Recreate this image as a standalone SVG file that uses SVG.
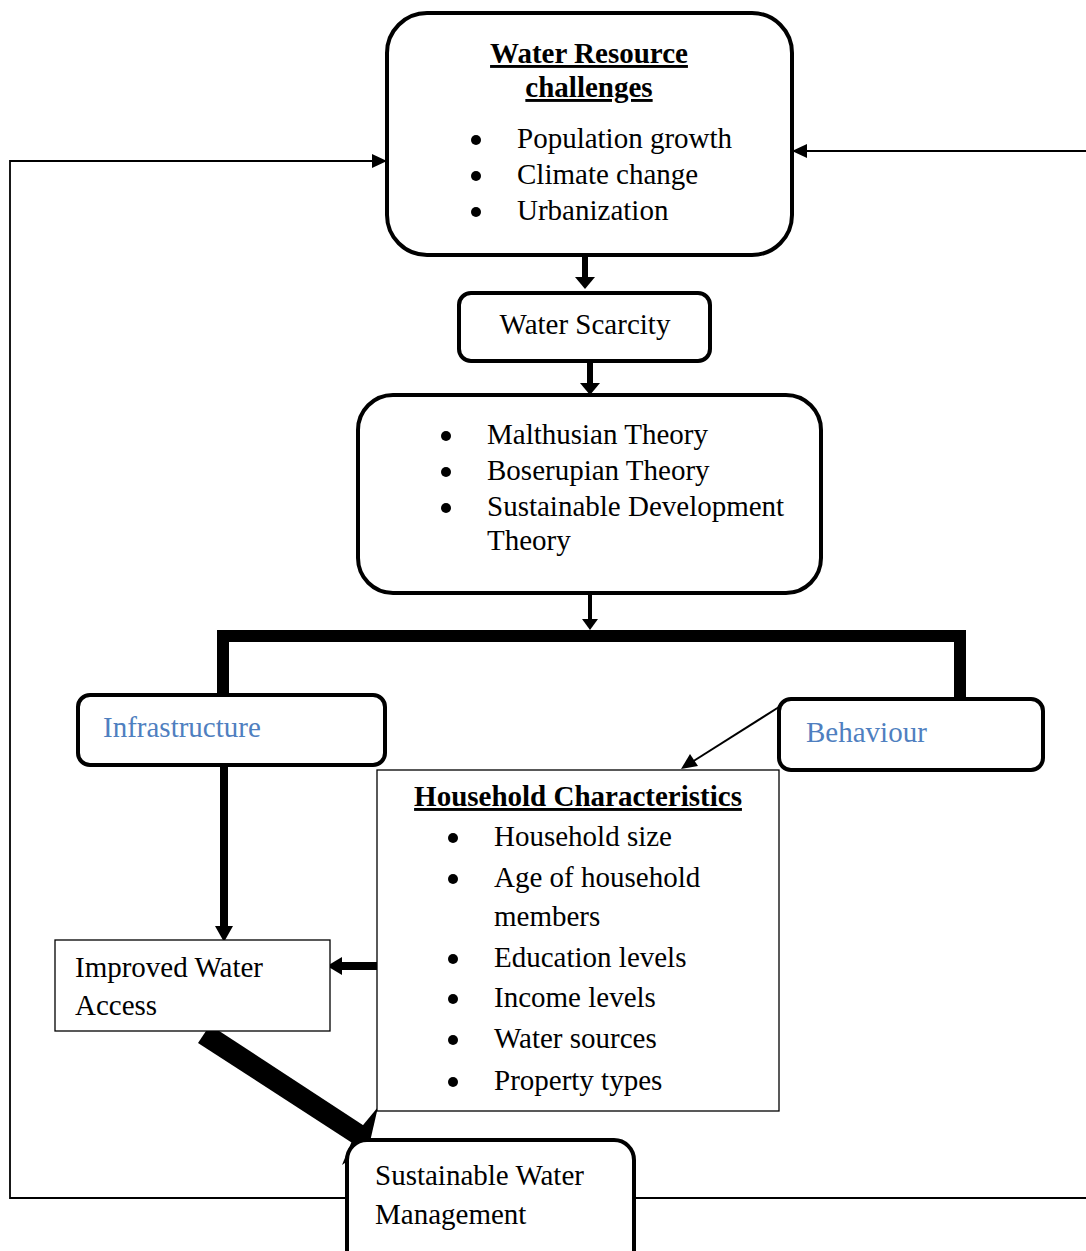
<svg xmlns="http://www.w3.org/2000/svg" width="1086" height="1251" viewBox="0 0 1086 1251">
<defs>
<style>
text{font-family:"Liberation Serif","Times New Roman",serif;font-size:29px;fill:#000}
.b{font-weight:bold;text-decoration:underline}
.blue{fill:#4f7fc0}
.rb{fill:#fff;stroke:#000;stroke-width:4}
.tb{fill:#fff;stroke:#000;stroke-width:1.3}
.thin{fill:none;stroke:#000;stroke-width:1.8}
.dot{fill:#000}
</style>
</defs>
<g id="connectors">
<polyline class="thin" points="347,1198 10,1198 10,161 375,161"/>
<polygon points="387,161 372,154 372,168" fill="#000"/>
<line class="thin" x1="634" y1="1198" x2="1086" y2="1198"/>
<line class="thin" x1="1086" y1="151" x2="804" y2="151"/>
<polygon points="792,151 807,144 807,158" fill="#000"/>
<line x1="585" y1="255" x2="585" y2="278" stroke="#000" stroke-width="6"/>
<polygon points="575,277 595,277 585,289" fill="#000"/>
<line x1="590" y1="361" x2="590" y2="384" stroke="#000" stroke-width="6"/>
<polygon points="580,383 600,383 590,395" fill="#000"/>
<line x1="590" y1="593" x2="590" y2="620" stroke="#000" stroke-width="4"/>
<polygon points="582,619 598,619 590,630" fill="#000"/>
<polyline points="223,697 223,636 960,636 960,699" fill="none" stroke="#000" stroke-width="12"/>
<line x1="224" y1="765" x2="224" y2="928" stroke="#000" stroke-width="8"/>
<polygon points="215,926 233,926 224,942" fill="#000"/>
<line x1="380" y1="966" x2="340" y2="966" stroke="#000" stroke-width="8"/>
<polygon points="342,957 327,966 342,975" fill="#000"/>
<line x1="779" y1="707" x2="692" y2="762" stroke="#000" stroke-width="2"/>
<polygon points="681,769 690,754 698,766" fill="#000"/>
<polygon points="198,1043 210,1025 372,1131 360,1148" fill="#000"/>
<polygon points="378,1107 369,1146 342,1165 354,1136" fill="#000"/>
</g>
<g id="water-resource-challenges">
<rect class="rb" x="387" y="13" width="405" height="242" rx="40"/>
<text class="b" x="589" y="63" text-anchor="middle">Water Resource</text>
<text class="b" x="589" y="97" text-anchor="middle">challenges</text>
<circle class="dot" cx="476" cy="140" r="5"/><text x="517" y="148">Population growth</text>
<circle class="dot" cx="476" cy="176" r="5"/><text x="517" y="184">Climate change</text>
<circle class="dot" cx="476" cy="212" r="5"/><text x="517" y="220">Urbanization</text>
</g>
<g id="water-scarcity">
<rect class="rb" x="459" y="293" width="251" height="68" rx="12"/>
<text x="585" y="334" text-anchor="middle">Water Scarcity</text>
</g>
<g id="theories">
<rect class="rb" x="358" y="395" width="463" height="198" rx="35"/>
<circle class="dot" cx="446" cy="436" r="5"/><text x="487" y="444">Malthusian Theory</text>
<circle class="dot" cx="446" cy="472" r="5"/><text x="487" y="480">Boserupian Theory</text>
<circle class="dot" cx="446" cy="508" r="5"/><text x="487" y="516">Sustainable Development</text>
<text x="487" y="550">Theory</text>
</g>
<g id="infrastructure">
<rect class="rb" x="78" y="695" width="307" height="70" rx="12"/>
<text class="blue" x="103" y="737">Infrastructure</text>
</g>
<g id="behaviour">
<rect class="rb" x="779" y="699" width="264" height="71" rx="12"/>
<text class="blue" x="806" y="742">Behaviour</text>
</g>
<g id="household-characteristics">
<rect class="tb" x="377" y="770" width="402" height="341"/>
<text class="b" x="578" y="806" text-anchor="middle">Household Characteristics</text>
<circle class="dot" cx="453" cy="838" r="5"/><text x="494" y="846">Household size</text>
<circle class="dot" cx="453" cy="879" r="5"/><text x="494" y="887">Age of household</text>
<text x="494" y="926">members</text>
<circle class="dot" cx="453" cy="959" r="5"/><text x="494" y="967">Education levels</text>
<circle class="dot" cx="453" cy="999" r="5"/><text x="494" y="1007">Income levels</text>
<circle class="dot" cx="453" cy="1040" r="5"/><text x="494" y="1048">Water sources</text>
<circle class="dot" cx="453" cy="1082" r="5"/><text x="494" y="1090">Property types</text>
</g>
<g id="improved-water-access">
<rect class="tb" x="55" y="940" width="275" height="91"/>
<text x="75" y="977">Improved Water</text>
<text x="75" y="1015">Access</text>
</g>
<g id="sustainable-water-management">
<rect class="rb" x="347" y="1140" width="287" height="130" rx="20"/>
<text x="375" y="1185">Sustainable Water</text>
<text x="375" y="1224">Management</text>
</g>
</svg>
